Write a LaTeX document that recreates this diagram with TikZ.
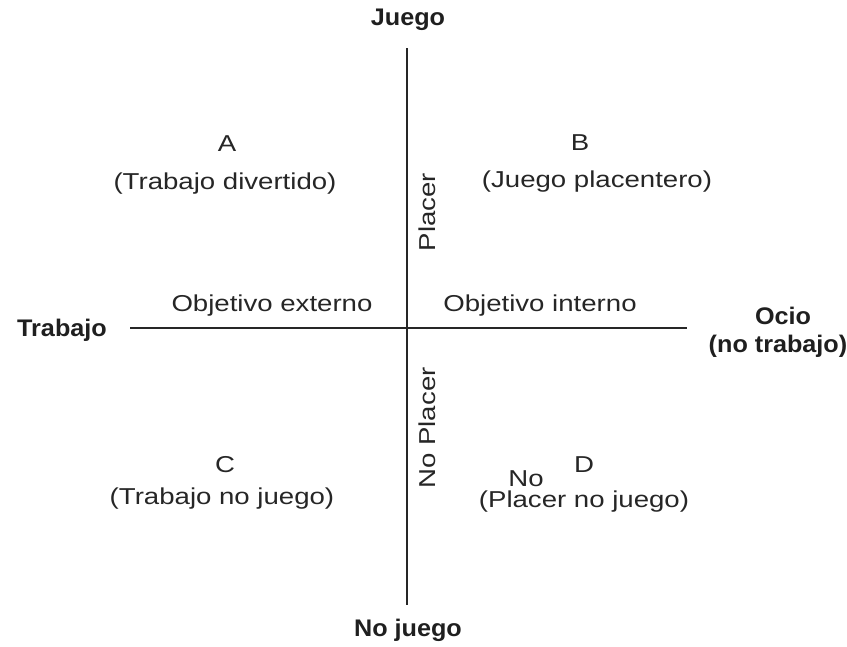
\documentclass[tikz,border=0pt]{standalone}
\usepackage{fontspec}
\setmainfont{Liberation Sans}
\newfontfamily\labfont[FakeStretch=1.2]{Liberation Sans}
\newfontfamily\boldlabfont[FakeStretch=1.05]{Liberation Sans Bold}
\begin{document}
\begin{tikzpicture}[x=1pt,y=-1pt,
  lab/.style={inner sep=0pt,font=\labfont\fontsize{23}{27}\selectfont,text=black!85},
  blab/.style={inner sep=0pt,font=\boldlabfont\fontsize{24}{28}\selectfont,text=black!88},
  vlab/.style={lab,rotate=90},
  axis/.style={line width=2pt,draw=black!85}]
\useasboundingbox (0,0) rectangle (847,646);
% axes end points
\coordinate (top) at (407,48);
\coordinate (bottom) at (407,605);
\coordinate (left) at (130,328);
\coordinate (right) at (687,328);
\draw[axis] (top) -- (bottom);
\draw[axis] (left) -- (right);
% axis labels
\node[blab] (juego) at (408,20) {Juego};
\node[blab] (nojuego) at (408,630) {No juego};
\node[blab] (trabajo) at (62,330) {Trabajo};
\node[blab] (ocio) at (783,316) {Ocio};
\node[blab] (notrabajo) at (778,346) {(no trabajo)};
% objective labels
\node[lab] (objext) at (272,306) {Objetivo externo};
\node[lab] (objint) at (540,306) {Objetivo interno};
% vertical labels
\node[vlab] (placer) at (427,212) {Placer};
\node[vlab] (noplacer) at (427,428) {No Placer};
% quadrants
\node[lab] (a) at (227,144) {A};
\node[lab] (adesc) at (225,184) {(Trabajo divertido)};
\node[lab] (b) at (580,143) {B};
\node[lab] (bdesc) at (597,182) {(Juego placentero)};
\node[lab] (c) at (225,465) {C};
\node[lab] (cdesc) at (222,499) {(Trabajo no juego)};
\node[lab] (d) at (584,465) {D};
\node[lab] (no) at (526,479) {No};
\node[lab] (ddesc) at (584,502) {(Placer no juego)};
\end{tikzpicture}
\end{document}
